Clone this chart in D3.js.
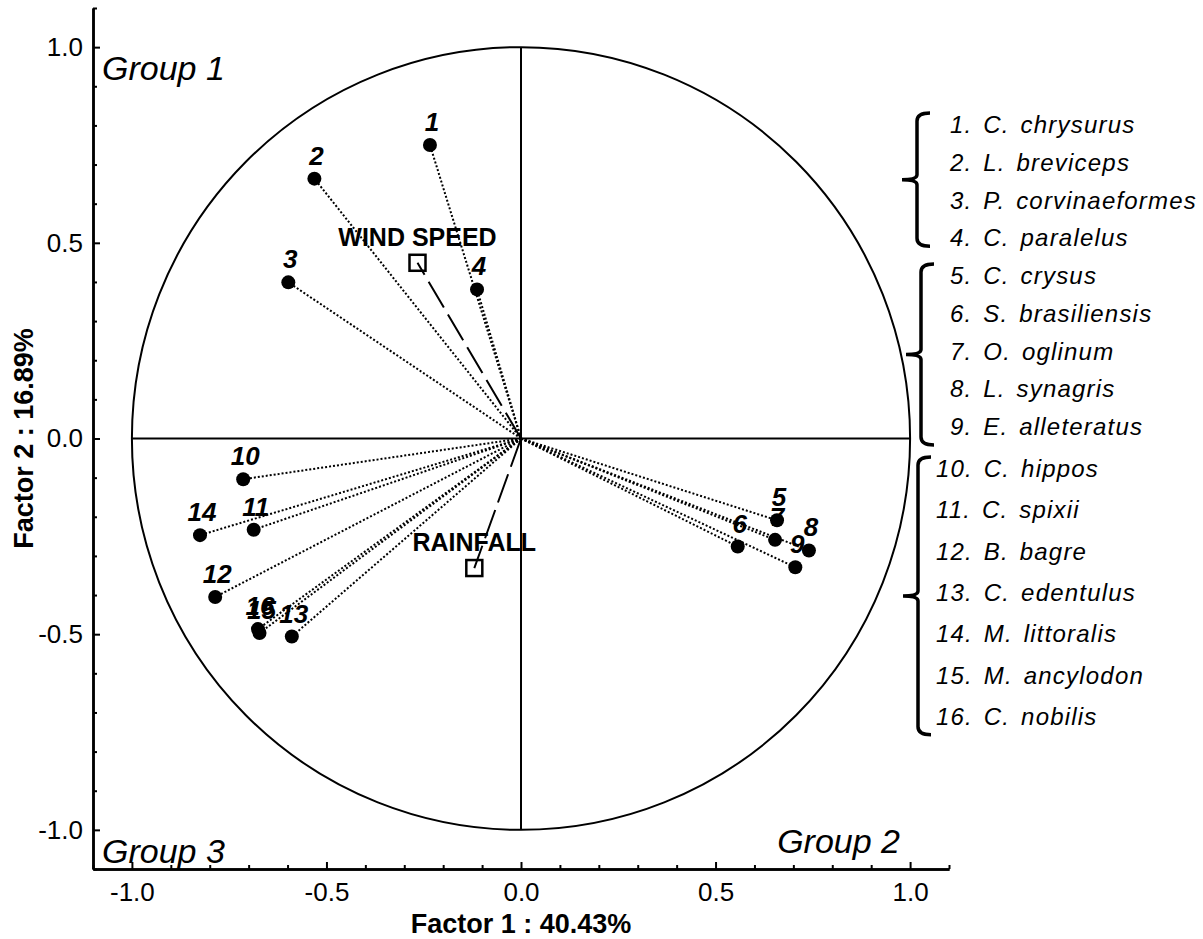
<!DOCTYPE html>
<html lang="en">
<head>
    <meta charset="UTF-8">
    <title>PCA factor plot</title>
    <script src="https://cdn.jsdelivr.net/npm/d3@7"></script>
    <style>
        body { margin: 0; background: #fff; }
        text { font-family: "Liberation Sans", Arial, sans-serif; fill: #000; }
    </style>
</head>
<body>
<script>
    // species loadings on factor 1 / factor 2
    const species = ['C. chrysurus', 'L. breviceps', 'P. corvinaeformes', 'C. paralelus',
        'C. crysus', 'S. brasiliensis', 'O. oglinum', 'L. synagris', 'E. alleteratus',
        'C. hippos', 'C. spixii', 'B. bagre', 'C. edentulus', 'M. littoralis',
        'M. ancylodon', 'C. nobilis']
    const f1 = [-0.234, -0.531, -0.598, -0.113, 0.658, 0.557, 0.653, 0.740, 0.705,
        -0.714, -0.687, -0.786, -0.589, -0.825, -0.672, -0.676]
    const f2 = [0.750, 0.664, 0.399, 0.381, -0.209, -0.276, -0.259, -0.286, -0.329,
        -0.104, -0.233, -0.405, -0.506, -0.247, -0.497, -0.487]

    // supplementary environmental variables
    const envNames = ['WIND SPEED', 'RAINFALL']
    const envF1 = [-0.266, -0.120]
    const envF2 = [0.449, -0.331]

    // groups (first, last species number)
    const groupNames = ['Group 1', 'Group 2', 'Group 3']
    const groupMembers = [[1, 4], [5, 9], [10, 16]]

    const majorTicks = [-1.0, -0.5, 0.0, 0.5, 1.0]
    const minorTicks = [-1.1, -0.9, -0.8, -0.7, -0.6, -0.4, -0.3, -0.2, -0.1,
        0.1, 0.2, 0.3, 0.4, 0.6, 0.7, 0.8, 0.9, 1.1]

    const xLabel = 'Factor 1 : 40.43%'
    const yLabel = 'Factor 2 : 16.89%'

    const [width, height] = [1203, 939]
    const x = d3.scaleLinear().domain([-1.1, 1.1]).range([93, 949])
    const y = d3.scaleLinear().domain([-1.1, 1.1]).range([869, 8])

    const svg = d3.select('body').append('svg')
        .attr('width', width)
        .attr('height', height)

    // unit circle and cross
    svg.append('ellipse')
        .attr('cx', x(0)).attr('cy', y(0))
        .attr('rx', x(1) - x(0)).attr('ry', y(0) - y(1))
        .attr('fill', 'none').attr('stroke', '#000').attr('stroke-width', 2)
    svg.append('line')
        .attr('x1', x(-1)).attr('x2', x(1)).attr('y1', y(0)).attr('y2', y(0))
        .attr('stroke', '#000').attr('stroke-width', 2)
    svg.append('line')
        .attr('x1', x(0)).attr('x2', x(0)).attr('y1', y(1)).attr('y2', y(-1))
        .attr('stroke', '#000').attr('stroke-width', 2)

    // axes (ticks point inward)
    const fmt = d => d.toFixed(1)
    const styleAxis = g => {
        g.select('.domain').attr('stroke-width', 2.5)
        g.selectAll('.tick line').attr('stroke-width', 2)
        g.selectAll('.tick text')
            .attr('font-family', '"Liberation Sans", Arial, sans-serif')
            .attr('font-size', 26)
    }
    const xMinor = svg.append('g').attr('transform', `translate(0,${y(-1.1)})`)
        .call(d3.axisBottom(x).tickValues(minorTicks).tickSize(-4).tickSizeOuter(0).tickFormat(''))
    const xMajor = svg.append('g').attr('transform', `translate(0,${y(-1.1)})`)
        .call(d3.axisBottom(x).tickValues(majorTicks).tickSize(-7).tickSizeOuter(0)
            .tickPadding(14).tickFormat(fmt))
    const yMinor = svg.append('g').attr('transform', `translate(${x(-1.1)},0)`)
        .call(d3.axisLeft(y).tickValues(minorTicks).tickSize(-4).tickSizeOuter(0).tickFormat(''))
    const yMajor = svg.append('g').attr('transform', `translate(${x(-1.1)},0)`)
        .call(d3.axisLeft(y).tickValues(majorTicks).tickSize(-7).tickSizeOuter(0)
            .tickPadding(10).tickFormat(fmt))
    ;[xMinor, xMajor, yMinor, yMajor].forEach(styleAxis)
    xMajor.selectAll('.tick text').attr('dy', '0.71em')

    svg.append('text')
        .attr('x', x(0)).attr('y', 933)
        .attr('text-anchor', 'middle')
        .attr('font-size', 27).attr('font-weight', 'bold')
        .text(xLabel)
    svg.append('text')
        .attr('transform', `translate(33,${y(0)}) rotate(-90)`)
        .attr('text-anchor', 'middle')
        .attr('font-size', 27).attr('font-weight', 'bold')
        .text(yLabel)

    // group labels in the corners
    const groupPos = [
        {x: 102, y: 80, anchor: 'start'},
        {x: 900, y: 853, anchor: 'end'},
        {x: 102, y: 863, anchor: 'start'}
    ]
    svg.selectAll('text.group').data(groupNames).enter().append('text')
        .attr('class', 'group')
        .attr('x', (d, i) => groupPos[i].x)
        .attr('y', (d, i) => groupPos[i].y)
        .attr('text-anchor', (d, i) => groupPos[i].anchor)
        .attr('font-size', 34).attr('font-style', 'italic')
        .text(d => d)

    // species vectors
    const pts = species.map((name, i) => ({n: i + 1, name, fx: f1[i], fy: f2[i]}))
    svg.append('g').selectAll('line').data(pts).enter().append('line')
        .attr('x1', x(0)).attr('y1', y(0))
        .attr('x2', d => x(d.fx)).attr('y2', d => y(d.fy))
        .attr('stroke', '#000').attr('stroke-width', 2)
        .attr('stroke-dasharray', '2,2')

    // environmental vectors
    const env = envNames.map((name, i) => ({name, fx: envF1[i], fy: envF2[i]}))
    svg.append('g').selectAll('line').data(env).enter().append('line')
        .attr('x1', x(0)).attr('y1', y(0))
        .attr('x2', d => x(d.fx)).attr('y2', d => y(d.fy))
        .attr('stroke', '#000').attr('stroke-width', 2)
        .attr('stroke-dasharray', '30,8')
    svg.append('g').selectAll('rect').data(env).enter().append('rect')
        .attr('x', d => x(d.fx) - 8).attr('y', d => y(d.fy) - 8)
        .attr('width', 16).attr('height', 16)
        .attr('fill', 'none').attr('stroke', '#000').attr('stroke-width', 2.5)
    svg.append('g').selectAll('text').data(env).enter().append('text')
        .attr('x', d => x(d.fx)).attr('y', d => y(d.fy) - 17)
        .attr('text-anchor', 'middle')
        .attr('font-size', 25).attr('font-weight', 'bold')
        .text(d => d.name)

    // species points and numbers
    svg.append('g').selectAll('circle').data(pts).enter().append('circle')
        .attr('cx', d => x(d.fx)).attr('cy', d => y(d.fy))
        .attr('r', 7).attr('fill', '#000')
    svg.append('g').selectAll('text').data(pts).enter().append('text')
        .attr('x', d => x(d.fx) + 2).attr('y', d => y(d.fy) - 14)
        .attr('text-anchor', 'middle')
        .attr('font-size', 26).attr('font-weight', 'bold').attr('font-style', 'italic')
        .text(d => d.n)

    // legend on the right
    const legendY = i => i < 9 ? 133 + i * 37.75 : 477 + (i - 9) * 41.3
    svg.append('g').selectAll('text').data(pts).enter().append('text')
        .attr('x', d => 950 - (String(d.n).length - 1) * 14)
        .attr('y', (d, i) => legendY(i))
        .attr('font-size', 24).attr('font-style', 'italic')
        .attr('letter-spacing', 1.2).attr('word-spacing', 3)
        .text(d => `${d.n}. ${d.name}`)

    // brackets around legend groups
    const bracketX = [917, 921, 918]
    const bracket = (bx, top, bottom) => {
        const mid = (top + bottom) / 2
        return `M${bx + 13},${top} Q${bx},${top} ${bx},${top + 8} L${bx},${mid - 5}` +
            ` Q${bx},${mid} ${bx - 15},${mid} Q${bx},${mid} ${bx},${mid + 5}` +
            ` L${bx},${bottom - 8} Q${bx},${bottom} ${bx + 13},${bottom}`
    }
    svg.append('g').selectAll('path').data(groupMembers).enter().append('path')
        .attr('d', (d, i) => bracket(bracketX[i], legendY(d[0] - 1) - 20,
            legendY(d[1] - 1) + (i === 0 ? 0 : 10)))
        .attr('fill', 'none').attr('stroke', '#000').attr('stroke-width', 3.5)
</script>
</body>
</html>
